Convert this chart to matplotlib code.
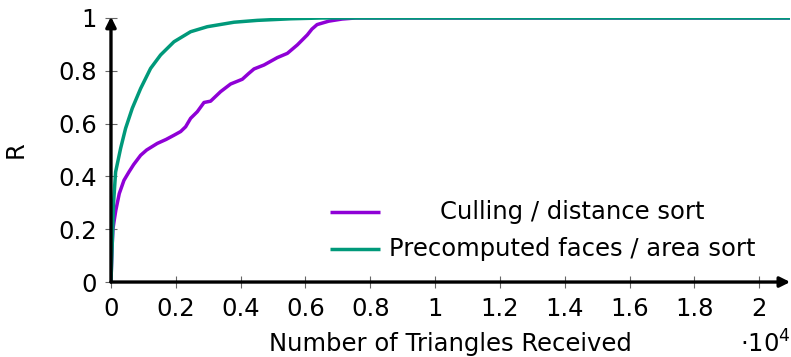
import numpy as np
import matplotlib
matplotlib.use("Agg")
import matplotlib.pyplot as plt
from matplotlib.lines import Line2D
from matplotlib.ticker import FuncFormatter

plt.rcParams['font.family'] = ['DejaVu Sans']

# triangles received vs. R
cull_x = [0, 30, 60, 100, 150, 256, 400, 555, 700, 915, 1100, 1429, 1700, 1944,
          2150, 2303, 2457, 2663, 2870, 3074, 3382, 3691, 4052, 4250, 4413, 4722,
          5132, 5441, 5749, 6058, 6200, 6359, 6718, 7128, 7538, 21000]
cull_y = [0, 0.12, 0.2, 0.234, 0.272, 0.335, 0.385, 0.417, 0.445, 0.480, 0.500,
          0.525, 0.540, 0.556, 0.570, 0.588, 0.620, 0.645, 0.680, 0.685, 0.721,
          0.750, 0.768, 0.790, 0.807, 0.822, 0.850, 0.866, 0.898, 0.936, 0.958,
          0.975, 0.988, 0.996, 1.0, 1.0]

area_x = [0, 40, 80, 143, 297, 451, 657, 915, 1222, 1531, 1944, 2457, 2972,
          3796, 4515, 5543, 6500, 21000]
area_y = [0, 0.15, 0.3, 0.417, 0.506, 0.582, 0.658, 0.733, 0.809, 0.860, 0.910,
          0.948, 0.967, 0.984, 0.991, 0.997, 1.0, 1.0]

labels = ['Culling / distance sort', 'Precomputed faces / area sort']
colors = ['#8f00d6', '#00997a']

x_ticks = np.arange(0, 20001, 2000)
y_ticks = np.arange(0, 1.01, 0.2)

fig = plt.figure(figsize=(7.91, 3.57), dpi=100)
ax = fig.add_axes([0.1403, 0.21, 0.8587, 0.7396])

ax.plot(cull_x, cull_y, color=colors[0], lw=2.5, solid_joinstyle='round', zorder=3)
ax.plot(area_x, area_y, color=colors[1], lw=2.5, solid_joinstyle='round', zorder=3)

ax.set_xlim(0, 20957)
ax.set_ylim(0, 1.0)

for s in ax.spines.values():
    s.set_visible(False)

# axis lines with arrow heads
arrow = dict(arrowstyle='-|>,head_length=0.6,head_width=0.3', lw=2.4, color='k',
             shrinkA=0, shrinkB=0)
ax.annotate('', xy=(1.0, 0), xytext=(0, 0), xycoords='axes fraction', arrowprops=arrow)
ax.annotate('', xy=(0, 1.005), xytext=(0, 0), xycoords='axes fraction', arrowprops=arrow)

ax.set_xticks(x_ticks)
ax.set_yticks(y_ticks)
ax.xaxis.set_major_formatter(FuncFormatter(lambda v, p: f'{v / 1e4:g}'))
ax.yaxis.set_major_formatter(FuncFormatter(lambda v, p: f'{v:g}'))
ax.tick_params(direction='inout', length=8, width=0.8, color='#666666',
               labelsize=17.5, labelcolor='black')
ax.tick_params(axis='x', pad=7)
ax.tick_params(axis='y', pad=6)

ax.set_xlabel('Number of Triangles Received', fontsize=17.5, labelpad=8)
ax.set_ylabel('R', fontsize=17.5, labelpad=22)
ax.text(1.0, -0.235, r'$\cdot$10$^4$', transform=ax.transAxes, ha='right',
        va='center', fontsize=17.5)

# legend: short line samples with centred text
for i, (lab, col) in enumerate(zip(labels, colors)):
    yy = 0.265 - i * 0.14
    ax.add_line(Line2D([0.3224, 0.3960], [yy, yy], transform=ax.transAxes,
                       color=col, lw=2.5, solid_capstyle='butt'))
    ax.text(0.6789, yy, lab, transform=ax.transAxes, ha='center', va='center',
            fontsize=17.5)

fig.savefig('out.png', dpi=100)
